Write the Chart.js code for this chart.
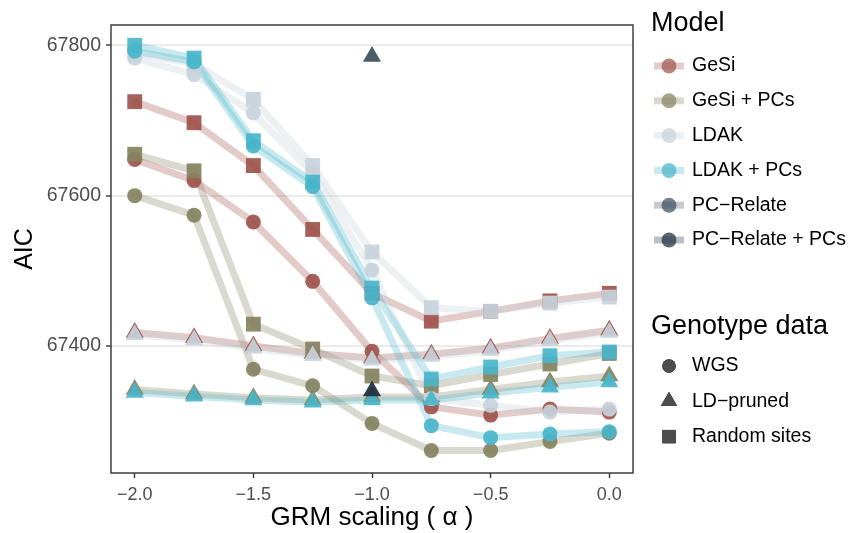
<!DOCTYPE html>
<html>
<head>
<meta charset="utf-8">
<script src="https://cdn.jsdelivr.net/npm/chart.js@4.4.1/dist/chart.umd.min.js"></script>
<style>
  html, body { margin: 0; padding: 0; background: #fff; }
  #wrap { width: 856px; height: 533px; }
</style>
</head>
<body>
<div id="wrap"><canvas id="aic" width="856" height="533"></canvas></div>
<script>
// GRM scaling values on the x axis
const alphas = [-2.0, -1.75, -1.5, -1.25, -1.0, -0.75, -0.5, -0.25, 0.0];
const pcAlphas = [-1.0]; // PC-Relate has no scaling, single point

const models = ['GeSi', 'GeSi + PCs', 'LDAK', 'LDAK + PCs', 'PC−Relate', 'PC−Relate + PCs'];
const modelColors = ['#a0544c', '#86825f', '#c8d2db', '#4ab5cb', '#3a4f5e', '#1c2c3c'];
const genotypes = ['WGS', 'LD−pruned', 'Random sites'];
const genoShapes = ['circle', 'triangle', 'rect'];
const genoRadius = [7.5, 10.5, 10.5];

const xTicks = [-2.0, -1.5, -1.0, -0.5, 0.0];
const yTicks = [67400, 67600, 67800];

// AIC values, one array per model / genotype data
const gesiWgs    = [67648, 67620, 67565, 67486, 67393, 67319, 67308, 67316, 67312];
const gesiLd     = [67418, 67411, 67400, 67390, 67384, 67389, 67397, 67410, 67421];
const gesiRand   = [67725, 67697, 67640, 67555, 67470, 67433, 67446, 67460, 67470];

const gesiPcWgs  = [67600, 67574, 67369, 67347, 67297, 67261, 67261, 67273, 67284];
const gesiPcLd   = [67342, 67336, 67331, 67328, 67332, 67332, 67342, 67352, 67360];
const gesiPcRand = [67655, 67633, 67429, 67396, 67360, 67347, 67362, 67376, 67390];

const ldakWgs    = [67783, 67761, 67710, 67630, 67501, 67330, 67321, 67312, 67316];
const ldakLd     = [67415, 67408, 67397, 67387, 67381, 67386, 67394, 67407, 67418];
const ldakRand   = [67790, 67775, 67728, 67640, 67525, 67451, 67446, 67457, 67465];

const ldakPcWgs  = [67792, 67778, 67666, 67612, 67464, 67294, 67278, 67283, 67286];
const ldakPcLd   = [67338, 67333, 67328, 67325, 67328, 67328, 67337, 67345, 67352];
const ldakPcRand = [67800, 67783, 67673, 67618, 67477, 67356, 67372, 67387, 67392];

const pcRelateLd   = [67785];
const pcRelatePcLd = [67340];

const series = [
  { model: 0, geno: 0, x: alphas, y: gesiWgs },
  { model: 0, geno: 1, x: alphas, y: gesiLd },
  { model: 0, geno: 2, x: alphas, y: gesiRand },
  { model: 1, geno: 0, x: alphas, y: gesiPcWgs },
  { model: 1, geno: 1, x: alphas, y: gesiPcLd },
  { model: 1, geno: 2, x: alphas, y: gesiPcRand },
  { model: 2, geno: 0, x: alphas, y: ldakWgs },
  { model: 2, geno: 1, x: alphas, y: ldakLd },
  { model: 2, geno: 2, x: alphas, y: ldakRand },
  { model: 3, geno: 0, x: alphas, y: ldakPcWgs },
  { model: 3, geno: 1, x: alphas, y: ldakPcLd },
  { model: 3, geno: 2, x: alphas, y: ldakPcRand },
  { model: 4, geno: 1, x: pcAlphas, y: pcRelateLd },
  { model: 5, geno: 1, x: pcAlphas, y: pcRelatePcLd }
];

function rgba(hex, a) {
  const n = parseInt(hex.slice(1), 16);
  return 'rgba(' + (n >> 16) + ',' + ((n >> 8) & 255) + ',' + (n & 255) + ',' + a + ')';
}

function fmtAlpha(v) {
  return (v < 0 ? '−' : '') + Math.abs(v).toFixed(1);
}

// lines go underneath every point, like geom_line then geom_point
const datasets = [];
series.forEach((s, k) => {
  const pts = s.x.map((x, i) => ({ x: x, y: s.y[i] }));
  const col = modelColors[s.model];
  if (pts.length > 1) {
    datasets.push({
      data: pts,
      borderColor: rgba(col, 0.3),
      borderWidth: 7,
      borderJoinStyle: 'round',
      borderCapStyle: 'round',
      pointRadius: 0,
      tension: 0,
      order: 1000 - k
    });
  }
  datasets.push({
    data: pts,
    showLine: false,
    pointStyle: genoShapes[s.geno],
    pointRadius: genoRadius[s.geno],
    pointBackgroundColor: rgba(col, 0.92),
    pointBorderWidth: 0,
    pointBorderColor: 'rgba(0,0,0,0)',
    order: 100 - k
  });
});

const FAMILY = 'Liberation Sans, Arial, sans-serif';
const titleFont = { family: FAMILY, size: 25 };

const panelBorder = {
  id: 'panelBorder',
  afterDatasetsDraw(chart) {
    const a = chart.chartArea, ctx = chart.ctx;
    ctx.save();
    ctx.strokeStyle = '#333';
    ctx.lineWidth = 1.4;
    ctx.strokeRect(a.left, a.top, a.right - a.left, a.bottom - a.top);
    ctx.restore();
  }
};

// two-part legend (colour = model, shape = genotype data)
const sideLegend = {
  id: 'sideLegend',
  afterDraw(chart) {
    const ctx = chart.ctx;
    const x0 = 651;
    ctx.save();
    ctx.textBaseline = 'middle';
    ctx.textAlign = 'left';
    ctx.fillStyle = '#000';
    ctx.font = '27px ' + FAMILY;
    ctx.fillText('Model', x0, 24);
    models.forEach((m, i) => {
      const y = 66 + i * 34.8;
      const col = modelColors[i];
      ctx.strokeStyle = rgba(col, 0.3);
      ctx.lineWidth = 7;
      ctx.beginPath();
      ctx.moveTo(654, y);
      ctx.lineTo(684, y);
      ctx.stroke();
      ctx.fillStyle = rgba(col, 0.72);
      ctx.beginPath();
      ctx.arc(669, y, 7.5, 0, Math.PI * 2);
      ctx.fill();
      ctx.fillStyle = '#000';
      ctx.font = '19.5px ' + FAMILY;
      ctx.fillText(m, 692, y);
    });
    ctx.font = '27px ' + FAMILY;
    ctx.fillText('Genotype data', x0, 327);
    genotypes.forEach((g, i) => {
      const y = 366 + i * 35.3;
      Chart.helpers.drawPoint(ctx, {
        pointStyle: genoShapes[i],
        radius: genoRadius[i] * 0.9,
        borderWidth: 0,
        rotation: 0
      }, 669, y);
      ctx.fillStyle = '#4d4d4d';
      ctx.fill();
      ctx.fillStyle = '#000';
      ctx.font = '19.5px ' + FAMILY;
      ctx.fillText(g, 692, y);
    });
    ctx.restore();
  }
};

new Chart(document.getElementById('aic'), {
  type: 'line',
  data: { datasets: datasets },
  plugins: [panelBorder, sideLegend],
  options: {
    responsive: false,
    devicePixelRatio: 1,
    animation: false,
    events: [],
    layout: { padding: { top: 25, right: 223, left: 0, bottom: 0 } },
    plugins: { legend: { display: false }, tooltip: { enabled: false } },
    scales: {
      x: {
        type: 'linear',
        min: -2.1,
        max: 0.1,
        afterBuildTicks: s => { s.ticks = xTicks.map(v => ({ value: v })); },
        afterFit: s => { s.height = 60; },
        ticks: {
          callback: v => fmtAlpha(v),
          font: { family: FAMILY, size: 18 },
          color: '#4d4d4d',
          padding: 6,
          maxRotation: 0,
          autoSkip: false
        },
        grid: { drawOnChartArea: false, drawTicks: true, tickLength: 5, tickColor: '#333', tickWidth: 1.4 },
        border: { display: false },
        title: { display: true, text: 'GRM scaling ( α )', font: { family: FAMILY, size: 26 }, color: '#000', padding: 0 }
      },
      y: {
        min: 67231,
        max: 67827,
        afterBuildTicks: s => { s.ticks = yTicks.map(v => ({ value: v })); },
        afterFit: s => { s.width = 111; },
        ticks: {
          callback: v => String(v),
          font: { family: FAMILY, size: 19.5 },
          color: '#4d4d4d',
          padding: 5
        },
        grid: { color: '#ebebeb', lineWidth: 2, tickLength: 5, tickColor: '#333', tickWidth: 1.4 },
        border: { display: false },
        title: { display: true, text: 'AIC', font: titleFont, color: '#000', padding: { top: 10 } }
      }
    }
  }
});
</script>
</body>
</html>
